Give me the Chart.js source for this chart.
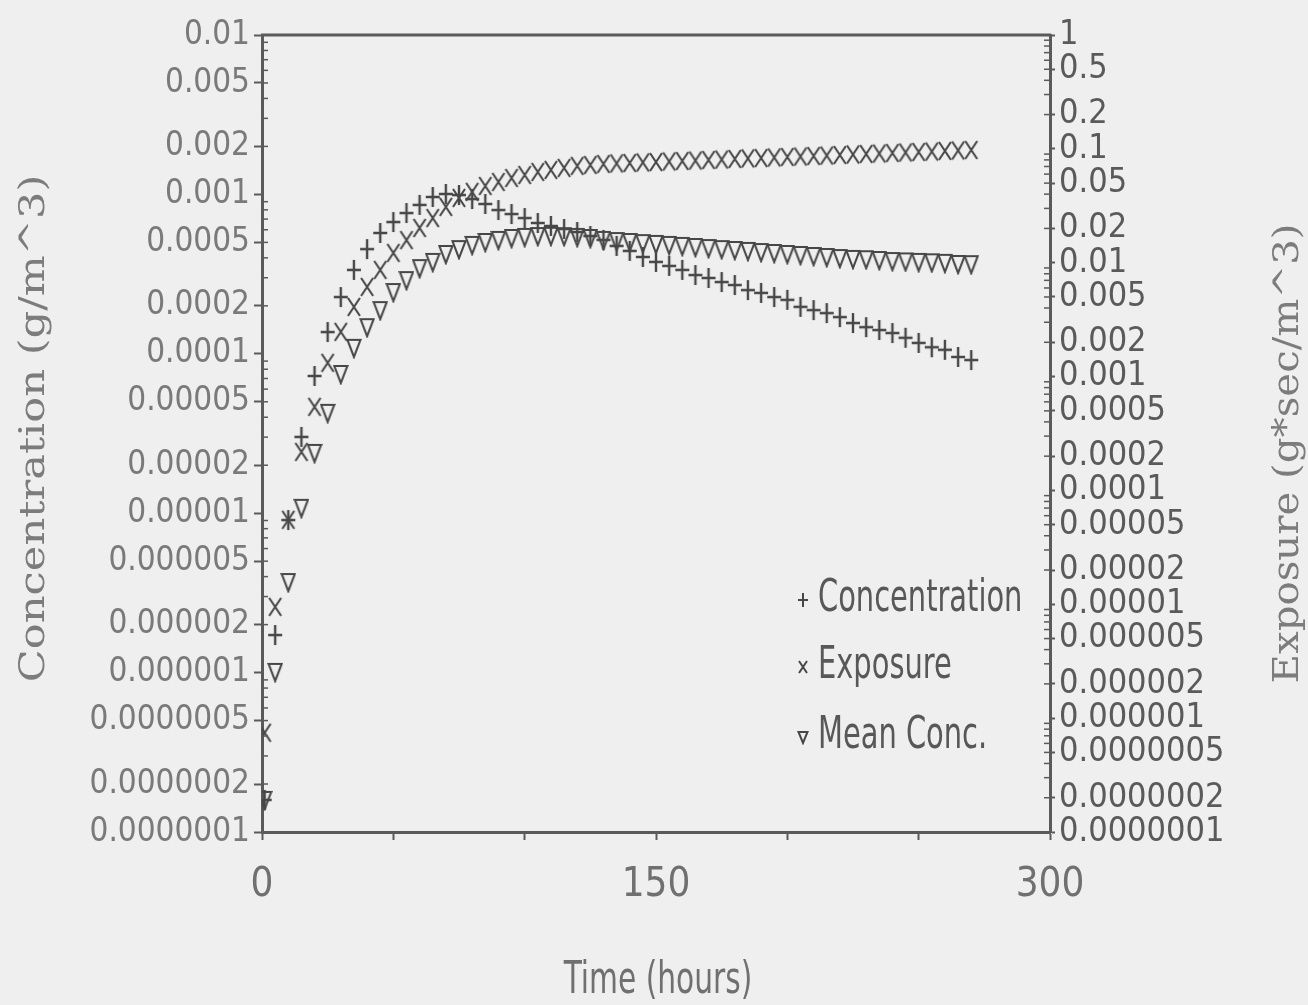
<!DOCTYPE html>
<html>
<head>
<meta charset="utf-8">
<script src="https://cdn.jsdelivr.net/npm/chart.js@4.4.1/dist/chart.umd.min.js"></script>
<style>
  html, body { margin: 0; padding: 0; background: #efefef; }
  #wrap { width: 1308px; height: 1005px; }
</style>
</head>
<body>
<div id="wrap"><canvas id="chart"></canvas></div>
<script>
/* ========= DATA ========= */

const times = [1, 5, 10, 15, 20, 25, 30, 35, 40, 45, 50, 55, 60, 65, 70,
  75, 80, 85, 90, 95, 100, 105, 110, 115, 120, 125, 130,
  135, 140, 145, 150, 155, 160, 165, 170, 175, 180, 185, 190, 195, 200,
  205, 210, 215, 220, 225, 230, 235, 240, 245, 250, 255, 260, 265, 270];

// g/m^3, left axis
const concentration = [1.59e-7, 1.72e-6, 9.06e-6, 3.01e-5, 7.26e-5, 1.37e-4, 2.27e-4, 3.36e-4,
  4.54e-4, 5.73e-4, 6.71e-4, 7.64e-4, 8.59e-4, 9.64e-4, 1.006e-3,
  9.91e-4, 9.35e-4, 8.71e-4, 7.98e-4, 7.53e-4, 7.11e-4, 6.62e-4, 6.34e-4, 6.07e-4, 5.81e-4, 5.48e-4, 5.18e-4,
  4.75e-4, 4.42e-4, 4.05e-4, 3.77e-4, 3.56e-4, 3.36e-4, 3.12e-4, 2.99e-4, 2.82e-4, 2.70e-4,
  2.51e-4, 2.41e-4, 2.27e-4, 2.18e-4, 1.97e-4, 1.88e-4, 1.80e-4, 1.70e-4, 1.56e-4, 1.47e-4,
  1.41e-4, 1.35e-4, 1.26e-4, 1.17e-4, 1.10e-4, 1.06e-4, 9.55e-5, 9.14e-5];

// g*sec/m^3, right axis
const exposure = [7.45e-7, 9.5e-6, 5.52e-5, 2.18e-4, 5.42e-4, 1.32e-3, 2.47e-3, 4.09e-3,
  6.13e-3, 8.65e-3, 1.22e-2, 1.58e-2, 2.02e-2, 2.47e-2, 3.09e-2,
  3.71e-2, 4.19e-2, 4.72e-2, 5.12e-2, 5.55e-2, 5.90e-2, 6.27e-2, 6.53e-2, 6.80e-2, 7.08e-2, 7.22e-2, 7.37e-2,
  7.45e-2, 7.52e-2, 7.60e-2, 7.66e-2, 7.75e-2, 7.83e-2, 7.90e-2, 7.99e-2, 8.06e-2, 8.15e-2,
  8.24e-2, 8.31e-2, 8.40e-2, 8.49e-2, 8.56e-2, 8.66e-2, 8.74e-2, 8.84e-2, 8.93e-2, 9.02e-2,
  9.10e-2, 9.20e-2, 9.30e-2, 9.39e-2, 9.47e-2, 9.59e-2, 9.68e-2, 9.78e-2];

// g/m^3, left axis
const meanConc = [1.59e-7, 1.01e-6, 3.70e-6, 1.08e-5, 2.39e-5, 4.26e-5, 7.47e-5, 1.09e-4,
  1.47e-4, 1.88e-4, 2.44e-4, 2.90e-4, 3.45e-4, 3.77e-4, 4.23e-4,
  4.54e-4, 4.82e-4, 5.03e-4, 5.18e-4, 5.33e-4, 5.41e-4, 5.48e-4, 5.50e-4, 5.47e-4, 5.41e-4, 5.33e-4, 5.18e-4,
  5.10e-4, 5.03e-4, 4.95e-4, 4.89e-4, 4.82e-4, 4.75e-4, 4.68e-4, 4.61e-4, 4.54e-4, 4.48e-4,
  4.42e-4, 4.35e-4, 4.29e-4, 4.23e-4, 4.17e-4, 4.11e-4, 4.05e-4, 3.99e-4, 3.94e-4, 3.92e-4,
  3.88e-4, 3.82e-4, 3.80e-4, 3.77e-4, 3.75e-4, 3.72e-4, 3.66e-4, 3.65e-4];

const seriesNames = ["Concentration", "Exposure", "Mean Conc."];

const xTicks = [0, 50, 100, 150, 200, 250, 300];
const xTickLabels = ["0", "", "", "150", "", "", "300"];

const leftTicks = [1e-7, 2e-7, 5e-7, 1e-6, 2e-6, 5e-6, 1e-5, 2e-5, 5e-5,
  1e-4, 2e-4, 5e-4, 1e-3, 2e-3, 5e-3, 1e-2];
const leftTickLabels = ["0.0000001", "0.0000002", "0.0000005", "0.000001", "0.000002", "0.000005",
  "0.00001", "0.00002", "0.00005", "0.0001", "0.0002", "0.0005", "0.001", "0.002", "0.005", "0.01"];

const rightTicks = [1e-7, 2e-7, 5e-7, 1e-6, 2e-6, 5e-6, 1e-5, 2e-5, 5e-5,
  1e-4, 2e-4, 5e-4, 1e-3, 2e-3, 5e-3, 1e-2, 2e-2, 5e-2, 0.1, 0.2, 0.5, 1];
const rightTickLabels = ["0.0000001", "0.0000002", "0.0000005", "0.000001", "0.000002", "0.000005",
  "0.00001", "0.00002", "0.00005", "0.0001", "0.0002", "0.0005", "0.001", "0.002", "0.005",
  "0.01", "0.02", "0.05", "0.1", "0.2", "0.5", "1"];

/* ========= STYLE ========= */

const NARROW = "'DejaVu Sans Condensed', 'DejaVu Sans', sans-serif";
const SERIF = "'DejaVu Serif', serif";
const MARK = "#474747";
const AXIS = "#5a5a5a";
const INK = "#707070";
const PAPER = "#efefef";

// tall thin plotter glyphs
function glyph(kind, w, h, lw) {
  const c = document.createElement("canvas");
  c.width = w; c.height = h;
  const g = c.getContext("2d");
  g.strokeStyle = MARK;
  g.lineWidth = lw;
  g.beginPath();
  if (kind === "plus") {
    g.moveTo(w / 2, 1); g.lineTo(w / 2, h - 1);
    g.moveTo(1, h / 2); g.lineTo(w - 1, h / 2);
  } else if (kind === "cross") {
    g.moveTo(2, 2); g.lineTo(w - 2, h - 2);
    g.moveTo(w - 2, 2); g.lineTo(2, h - 2);
  } else {
    g.moveTo(1.5, 3); g.lineTo(w - 1.5, 3); g.lineTo(w / 2, h - 2); g.closePath();
  }
  g.stroke();
  return c;
}

const markers = [glyph("plus", 16, 22, 2.4), glyph("cross", 16, 22, 2.1), glyph("tri", 16, 22, 2.1)];
const legendMarks = [glyph("plus", 12, 16, 2), glyph("cross", 12, 16, 2), glyph("tri", 12, 16, 2)];

function pts(ys) {
  return times.map((t, i) => ({ x: t, y: ys[i] }));
}

// text stretched/squeezed along its baseline, like the plotter lettering
function squeezed(ctx, text, x, y, sx, rot) {
  ctx.save();
  ctx.translate(x, y);
  if (rot) ctx.rotate(rot);
  ctx.scale(sx, 1);
  ctx.fillText(text, 0, 0);
  ctx.restore();
}

/* ========= PLUGINS ========= */

const paper = {
  id: "paper",
  beforeDraw(chart) {
    const ctx = chart.ctx;
    ctx.save();
    ctx.fillStyle = PAPER;
    ctx.fillRect(0, 0, chart.width, chart.height);
    ctx.restore();
  }
};

const frame = {
  id: "frame",
  afterDraw(chart) {
    const { ctx, chartArea: a } = chart;
    ctx.save();
    ctx.strokeStyle = AXIS;
    ctx.lineWidth = 3;
    ctx.beginPath();
    ctx.moveTo(a.left - 1, a.top);
    ctx.lineTo(a.right + 1, a.top);
    ctx.stroke();

    // minor log ticks inside both vertical axes
    ctx.lineWidth = 1.5;
    [["y", a.left, 6], ["y2", a.right, -6]].forEach(([id, x0, len]) => {
      const s = chart.scales[id];
      for (let e = Math.round(Math.log10(s.min)); e < Math.round(Math.log10(s.max)); e++) {
        for (let m = 2; m <= 9; m++) {
          const y = s.getPixelForValue(m * Math.pow(10, e));
          ctx.beginPath();
          ctx.moveTo(x0, y);
          ctx.lineTo(x0 + len, y);
          ctx.stroke();
        }
      }
    });

    // axis titles
    ctx.fillStyle = "#7c7c7c";
    ctx.textAlign = "center";
    ctx.textBaseline = "middle";
    ctx.font = "36px " + SERIF;
    squeezed(ctx, "Concentration (g/m^3)", 35, (a.top + a.bottom) / 2 - 5, 1.2, -Math.PI / 2);
    ctx.font = "35px " + SERIF;
    squeezed(ctx, "Exposure (g*sec/m^3)", 1289, (a.top + a.bottom) / 2 + 20, 1.15, -Math.PI / 2);
    ctx.fillStyle = INK;
    ctx.font = "44px " + NARROW;
    squeezed(ctx, "Time (hours)", (a.left + a.right) / 2 + 2, 982, 0.75, 0);

    // legend inside the plot, lower right
    ctx.fillStyle = "#585858";
    ctx.font = "44px " + NARROW;
    ctx.textAlign = "left";
    const rows = [600, 667, 737];
    seriesNames.forEach((name, i) => {
      const m = legendMarks[i];
      ctx.drawImage(m, 803 - m.width / 2, rows[i] - m.height / 2);
      squeezed(ctx, name, 818, rows[i], 0.73, 0);
    });
    ctx.restore();
  }
};

/* ========= CHART ========= */

new Chart(document.getElementById("chart"), {
  type: "scatter",
  data: {
    datasets: [
      { label: seriesNames[0], data: pts(concentration), yAxisID: "y", pointStyle: markers[0], pointRadius: 8 },
      { label: seriesNames[1], data: pts(exposure), yAxisID: "y2", pointStyle: markers[1], pointRadius: 8 },
      { label: seriesNames[2], data: pts(meanConc), yAxisID: "y", pointStyle: markers[2], pointRadius: 8 }
    ]
  },
  options: {
    responsive: true,
    maintainAspectRatio: false,
    animation: false,
    layout: { padding: { top: 35, left: 0, right: 0, bottom: 0 } },
    plugins: { legend: { display: false }, tooltip: { enabled: false } },
    scales: {
      x: {
        type: "linear", min: 0, max: 300,
        afterBuildTicks: s => { s.ticks = xTicks.map(v => ({ value: v })); },
        afterFit: s => { s.height = 173; },
        ticks: {
          autoSkip: false, maxRotation: 0, padding: 22, color: INK,
          font: { family: NARROW, size: 40 },
          callback: (v, i) => xTickLabels[i]
        },
        grid: { drawOnChartArea: false, tickLength: 8, tickWidth: 2, color: AXIS },
        border: { color: AXIS, width: 3 }
      },
      y: {
        type: "logarithmic", position: "left", min: 1e-7, max: 1e-2,
        afterBuildTicks: s => { s.ticks = leftTicks.map(v => ({ value: v })); },
        afterFit: s => { s.width = 262; },
        ticks: {
          autoSkip: false, padding: 4, color: "#7a7a7a",
          font: { family: NARROW, size: 33 },
          callback: (v, i) => leftTickLabels[i]
        },
        grid: { drawOnChartArea: false, tickLength: 8, tickWidth: 2, color: AXIS },
        border: { color: AXIS, width: 3 }
      },
      y2: {
        type: "logarithmic", position: "right", min: 1e-7, max: 1,
        afterBuildTicks: s => { s.ticks = rightTicks.map(v => ({ value: v })); },
        afterFit: s => { s.width = 258; },
        ticks: {
          autoSkip: false, padding: 4, color: "#5a5a5a",
          font: { family: NARROW, size: 34 },
          callback: (v, i) => rightTickLabels[i]
        },
        grid: { drawOnChartArea: false, tickLength: 5, tickWidth: 2, color: AXIS },
        border: { color: AXIS, width: 3 }
      }
    }
  },
  plugins: [paper, frame]
});
</script>
</body>
</html>
